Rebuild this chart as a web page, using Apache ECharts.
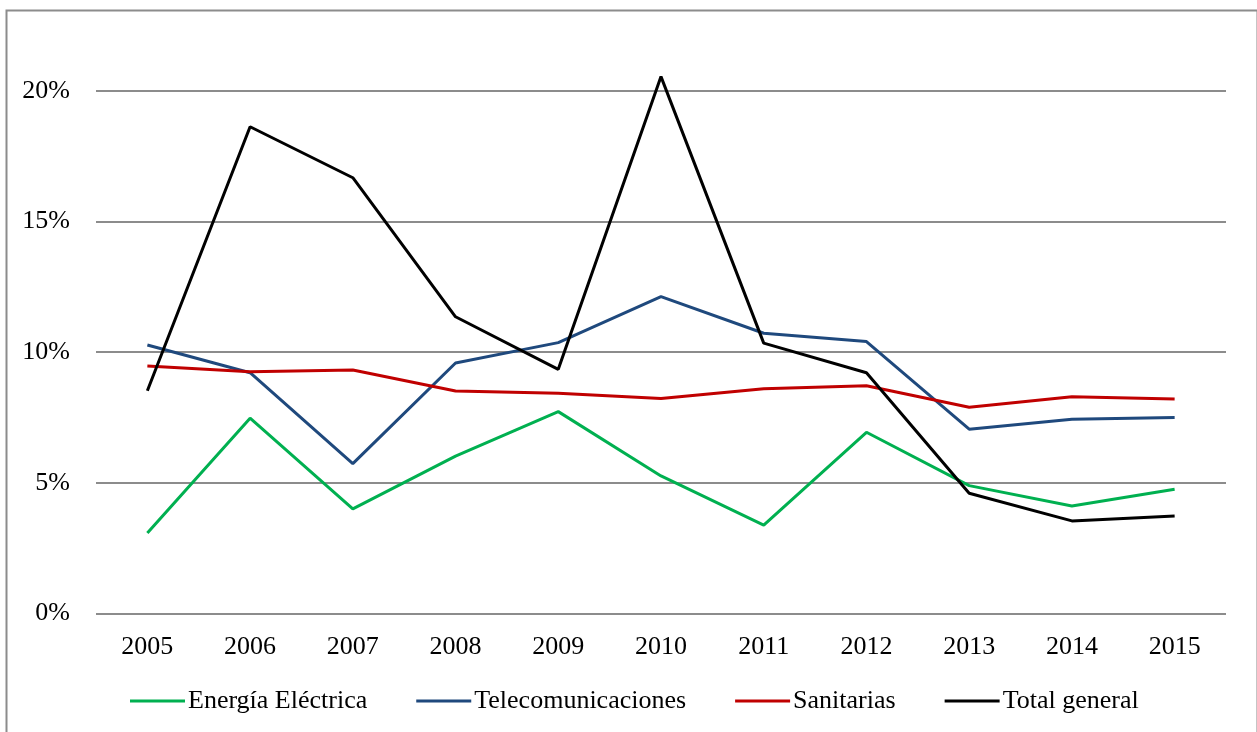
<!DOCTYPE html>
<html>
<head>
<meta charset="utf-8">
<script src="https://cdn.jsdelivr.net/npm/echarts@6/dist/echarts.min.js"></script>
<style>html,body{margin:0;padding:0;background:#fff;}#c{width:1257px;height:732px;}</style>
</head>
<body>
<div id="c"></div>
<script>
var categories = ['2005','2006','2007','2008','2009','2010','2011','2012','2013','2014','2015'];
var energia = [3.08, 7.47, 4.00, 6.02, 7.72, 5.26, 3.38, 6.93, 4.89, 4.11, 4.75];
var telecom = [10.27, 9.21, 5.73, 9.58, 10.36, 12.12, 10.72, 10.40, 7.05, 7.43, 7.50];
var sanitarias = [9.47, 9.25, 9.31, 8.51, 8.42, 8.22, 8.60, 8.71, 7.89, 8.29, 8.20];
var total = [8.52, 18.62, 16.67, 11.35, 9.34, 20.54, 10.34, 9.21, 4.60, 3.54, 3.73];
var seriesNames = ['Energía Eléctrica', 'Telecomunicaciones', 'Sanitarias', 'Total general'];
var yTicks = [0, 5, 10, 15, 20];

var font = '"Liberation Serif", "Times New Roman", serif';
var colors = ['#00B050', '#1F497D', '#C00000', '#000000'];
var data = [energia, telecom, sanitarias, total];

var chart = echarts.init(document.getElementById('c'), null, {renderer: 'canvas'});
chart.setOption({
  animation: false,
  backgroundColor: '#fff',
  color: colors,
  graphic: [{
    type: 'rect', left: 4, top: 8,
    shape: {width: 1251, height: 740},
    style: {fill: 'none', stroke: '#8c8c8c', lineWidth: 2},
    silent: true
  }],
  grid: {left: 96, right: 31, top: 90.7, bottom: 118.6, containLabel: false},
  legend: {
    data: seriesNames,
    left: 130, top: 686, padding: 0,
    icon: 'rect', itemWidth: 55, itemHeight: 3, itemGap: 49,
    textStyle: {fontFamily: font, fontSize: 26, color: '#000', lineHeight: 30, padding: [0, 0, 0, -2]}
  },
  xAxis: {
    type: 'category', data: categories, boundaryGap: true,
    axisLine: {show: false}, axisTick: {show: false},
    axisLabel: {fontFamily: font, fontSize: 26, color: '#000', margin: 21}
  },
  yAxis: {
    type: 'value', min: yTicks[0], max: yTicks[yTicks.length - 1], interval: 5,
    axisLine: {show: false}, axisTick: {show: false},
    axisLabel: {fontFamily: font, fontSize: 26, color: '#000', margin: 26, formatter: '{value}%', padding: [4, 0, 0, 0]},
    splitLine: {show: true, lineStyle: {color: '#8c8c8c', width: 2}}
  },
  series: seriesNames.map(function (n, i) {
    return {
      name: n, type: 'line', data: data[i], clip: false,
      symbol: 'none', lineStyle: {width: 3, color: colors[i]},
      itemStyle: {color: colors[i]}
    };
  })
});
</script>
</body>
</html>
